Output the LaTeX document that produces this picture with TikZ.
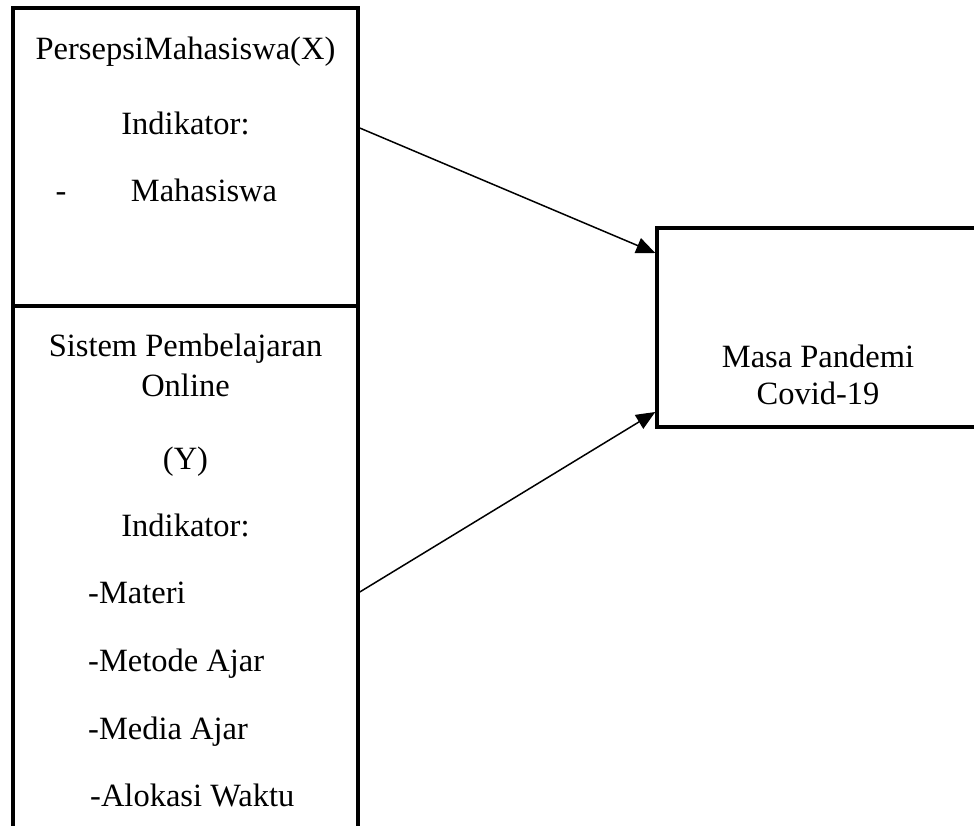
\documentclass[tikz,border=0pt]{standalone}
\usepackage{fontspec}
\setmainfont{Liberation Serif}
\usetikzlibrary{arrows.meta}
\begin{document}
\begin{tikzpicture}[x=1pt,y=-1pt,
  box/.style={draw,line width=3.5pt,inner sep=0pt},
  txt/.style={font=\fontsize{32.5}{38}\selectfont,anchor=base,inner sep=0pt},
  conn/.style={line width=1.5pt,-{Triangle[length=19pt,width=16pt]}}]
\useasboundingbox (0,0) rectangle (974,825);
\clip (0,0) rectangle (974,825);
\node[box,minimum width=345pt,minimum height=298pt] (xbox) at (185.5,157) {};
\node[box,minimum width=345pt,minimum height=560pt] (ybox) at (185.5,586) {};
\node[box,minimum width=340pt,minimum height=199pt] (zbox) at (827,327.5) {};
% texts left upper
\node[txt] (t1) at (185.5,59) {PersepsiMahasiswa(X)};
\node[txt] (t2) at (185.5,134) {Indikator:};
\node[txt] (t3) at (61,201) {-};
\node[txt] (t4) at (204,201) {Mahasiswa};
% texts left lower
\node[txt] (t5) at (185.5,356) {Sistem Pembelajaran};
\node[txt] (t6) at (185.5,396) {Online};
\node[txt] (t7) at (185.5,469) {(Y)};
\node[txt] (t8) at (185.5,536) {Indikator:};
\node[txt,anchor=base west] (t9) at (88,603) {-Materi};
\node[txt,anchor=base west] (t10) at (88,671) {-Metode Ajar};
\node[txt,anchor=base west] (t11) at (88,739) {-Media Ajar};
\node[txt,anchor=base west] (t12) at (90,806) {-Alokasi Waktu};
% right
\node[txt] (t13) at (818,367) {Masa Pandemi};
\node[txt] (t14) at (818,404) {Covid-19};
% connectors
\coordinate (a1) at (xbox.east |- 0,128);
\coordinate (b1) at (zbox.west |- 0,253);
\coordinate (a2) at (ybox.east |- 0,592);
\coordinate (b2) at (zbox.west |- 0,412);
\draw[conn] (a1) -- (b1);
\draw[conn] (a2) -- (b2);
\end{tikzpicture}
\end{document}
